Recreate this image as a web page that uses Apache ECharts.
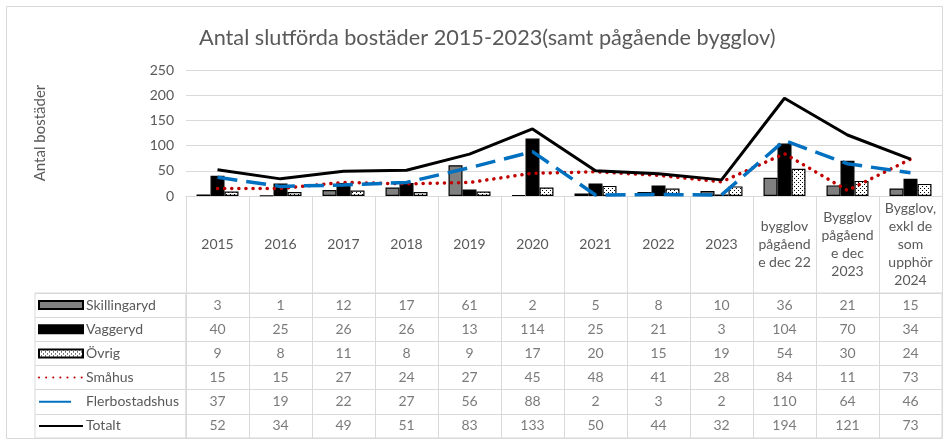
<!DOCTYPE html>
<html>
<head>
<meta charset="utf-8">
<script src="https://cdn.jsdelivr.net/npm/echarts@6/dist/echarts.min.js"></script>
<style>
  html, body { margin: 0; padding: 0; background: #fff; }
  #main { width: 947px; height: 443px; }
</style>
</head>
<body>
<div id="main"></div>
<script>
// kategorier (kolumnrubriker i tabellen)
const categories = ['2015', '2016', '2017', '2018', '2019', '2020', '2021', '2022', '2023',
  'bygglov\npågåend\ne dec 22', 'Bygglov\npågåend\ne dec\n2023', 'Bygglov,\nexkl de\nsom\nupphör\n2024'];

const skillingaryd = [3, 1, 12, 17, 61, 2, 5, 8, 10, 36, 21, 15];
const vaggeryd = [40, 25, 26, 26, 13, 114, 25, 21, 3, 104, 70, 34];
const ovrig = [9, 8, 11, 8, 9, 17, 20, 15, 19, 54, 30, 24];
const smahus = [15, 15, 27, 24, 27, 45, 48, 41, 28, 84, 11, 73];
const flerbostadshus = [37, 19, 22, 27, 56, 88, 2, 3, 2, 110, 64, 46];
const totalt = [52, 34, 49, 51, 83, 133, 50, 44, 32, 194, 121, 73];

const seriesNames = ['Skillingaryd', 'Vaggeryd', 'Övrig', 'Småhus', 'Flerbostadshus', 'Totalt'];
const tableRows = [skillingaryd, vaggeryd, ovrig, smahus, flerbostadshus, totalt];

const yTicks = { min: 0, max: 250, interval: 50 };

const FONT = 'Lato';
const TXT = '#595959';
const LINE = '#D9D9D9';

const TABLE_TOP = 293;
const ROW_H = 145 / 6;

// prickigt mönster för Övrig
function dotPattern() {
  const c = document.createElement('canvas');
  c.width = 4;
  c.height = 4;
  const ctx = c.getContext('2d');
  ctx.fillStyle = '#fff';
  ctx.fillRect(0, 0, 4, 4);
  ctx.fillStyle = '#000';
  ctx.fillRect(0, 0, 1, 1);
  ctx.fillRect(2, 2, 1, 1);
  return c;
}

// tabellceller: [kolumn, rad, värde]
const tableData = [];
tableRows.forEach((row, r) => {
  row.forEach((v, c) => {
    tableData.push([c, r, v]);
  });
});

// en förklaring per tabellrad
const legends = seriesNames.map((name, r) => {
  const isBar = r < 3;
  const short = name === 'Flerbostadshus';
  const item = { name: name };
  if (isBar) {
    item.icon = 'rect';
  } else {
    item.itemStyle = { opacity: 0 };
  }
  if (short) {
    item.lineStyle = { type: 'solid' };
  }
  return {
    orient: 'vertical',
    left: 38,
    top: TABLE_TOP + r * ROW_H,
    padding: 0,
    itemGap: 0,
    itemWidth: short ? 32 : 44,
    itemHeight: 8,
    selectedMode: false,
    textStyle: {
      fontFamily: FONT, fontSize: 14, color: TXT, lineHeight: ROW_H,
      padding: [0, 0, 0, short ? 10 : -2]
    },
    data: [item]
  };
});

const chart = echarts.init(document.getElementById('main'));

const option = {
  animation: false,
  textStyle: { fontFamily: FONT },
  title: {
    text: 'Antal slutförda bostäder 2015-2023(samt pågående bygglov)',
    left: 194,
    top: 22,
    textStyle: { fontFamily: FONT, fontSize: 21.7, fontWeight: 'normal', color: TXT }
  },
  graphic: [{
    type: 'rect',
    shape: { x: 6.5, y: 6.5, width: 936, height: 432 },
    style: { fill: 'none', stroke: LINE, lineWidth: 1 },
    silent: true
  }],
  legend: legends,
  grid: [
    { left: 186, right: 5, top: 70, height: 126 },
    { left: 186, right: 5, top: TABLE_TOP, height: 145, show: true, borderColor: LINE, borderWidth: 1 },
    { left: 35, width: 151, top: TABLE_TOP, height: 145, show: true, borderColor: LINE, borderWidth: 1 }
  ],
  xAxis: [
    {
      type: 'category',
      gridIndex: 0,
      data: categories,
      axisLine: { lineStyle: { color: LINE } },
      axisTick: { show: true, length: 97, lineStyle: { color: LINE } },
      axisLabel: {
        interval: 0,
        margin: 48,
        verticalAlign: 'middle',
        fontFamily: FONT,
        fontSize: 14,
        lineHeight: 18,
        color: TXT
      }
    },
    {
      type: 'category',
      gridIndex: 1,
      data: categories,
      axisLine: { show: false },
      axisTick: { show: false },
      axisLabel: { show: false },
      splitLine: { show: true, interval: 0, lineStyle: { color: LINE } }
    },
    {
      type: 'value',
      gridIndex: 2,
      show: false
    }
  ],
  yAxis: [
    {
      type: 'value',
      gridIndex: 0,
      min: yTicks.min,
      max: yTicks.max,
      interval: yTicks.interval,
      name: 'Antal bostäder',
      nameLocation: 'middle',
      nameGap: 138,
      nameTextStyle: { fontFamily: FONT, fontSize: 15, color: TXT },
      axisLine: { show: false },
      axisTick: { show: false },
      axisLabel: { fontFamily: FONT, fontSize: 14, color: TXT, margin: 12 },
      splitLine: { lineStyle: { color: LINE } }
    },
    {
      type: 'category',
      gridIndex: 1,
      inverse: true,
      data: seriesNames,
      axisLine: { show: false },
      axisTick: { show: false },
      axisLabel: { show: false },
      splitLine: { show: true, interval: 0, lineStyle: { color: LINE } }
    },
    {
      type: 'category',
      gridIndex: 2,
      inverse: true,
      data: seriesNames,
      axisLine: { show: false },
      axisTick: { show: false },
      axisLabel: { show: false },
      splitLine: { show: true, interval: 0, lineStyle: { color: LINE } }
    }
  ],
  series: [
    {
      name: 'Skillingaryd',
      type: 'bar',
      data: skillingaryd,
      barWidth: 14,
      barGap: '0%',
      itemStyle: { color: '#808080', borderColor: '#000', borderWidth: 1.2 }
    },
    {
      name: 'Vaggeryd',
      type: 'bar',
      data: vaggeryd,
      barWidth: 14,
      barGap: '0%',
      itemStyle: { color: '#000', borderColor: '#000', borderWidth: 1.2 }
    },
    {
      name: 'Övrig',
      type: 'bar',
      data: ovrig,
      barWidth: 14,
      barGap: '0%',
      itemStyle: { color: { image: dotPattern(), repeat: 'repeat' }, borderColor: '#000', borderWidth: 1.2 }
    },
    {
      name: 'Småhus',
      type: 'line',
      data: smahus,
      symbol: 'none',
      itemStyle: { color: '#C00000' },
      lineStyle: { color: '#C00000', width: 3.5, type: [0.1, 7], cap: 'round' }
    },
    {
      name: 'Flerbostadshus',
      type: 'line',
      data: flerbostadshus,
      symbol: 'none',
      itemStyle: { color: '#0070C0' },
      lineStyle: { color: '#0070C0', width: 3.5, type: [20, 9] }
    },
    {
      name: 'Totalt',
      type: 'line',
      data: totalt,
      symbol: 'none',
      itemStyle: { color: '#000' },
      lineStyle: { color: '#000', width: 3 }
    },
    {
      name: 'tabell',
      type: 'scatter',
      xAxisIndex: 1,
      yAxisIndex: 1,
      data: tableData,
      symbolSize: 1,
      silent: true,
      itemStyle: { color: 'transparent' },
      label: {
        show: true,
        position: 'inside',
        formatter: p => String(p.value[2]),
        fontFamily: FONT,
        fontSize: 14,
        color: TXT
      }
    }
  ]
};

chart.setOption(option);
</script>
</body>
</html>
